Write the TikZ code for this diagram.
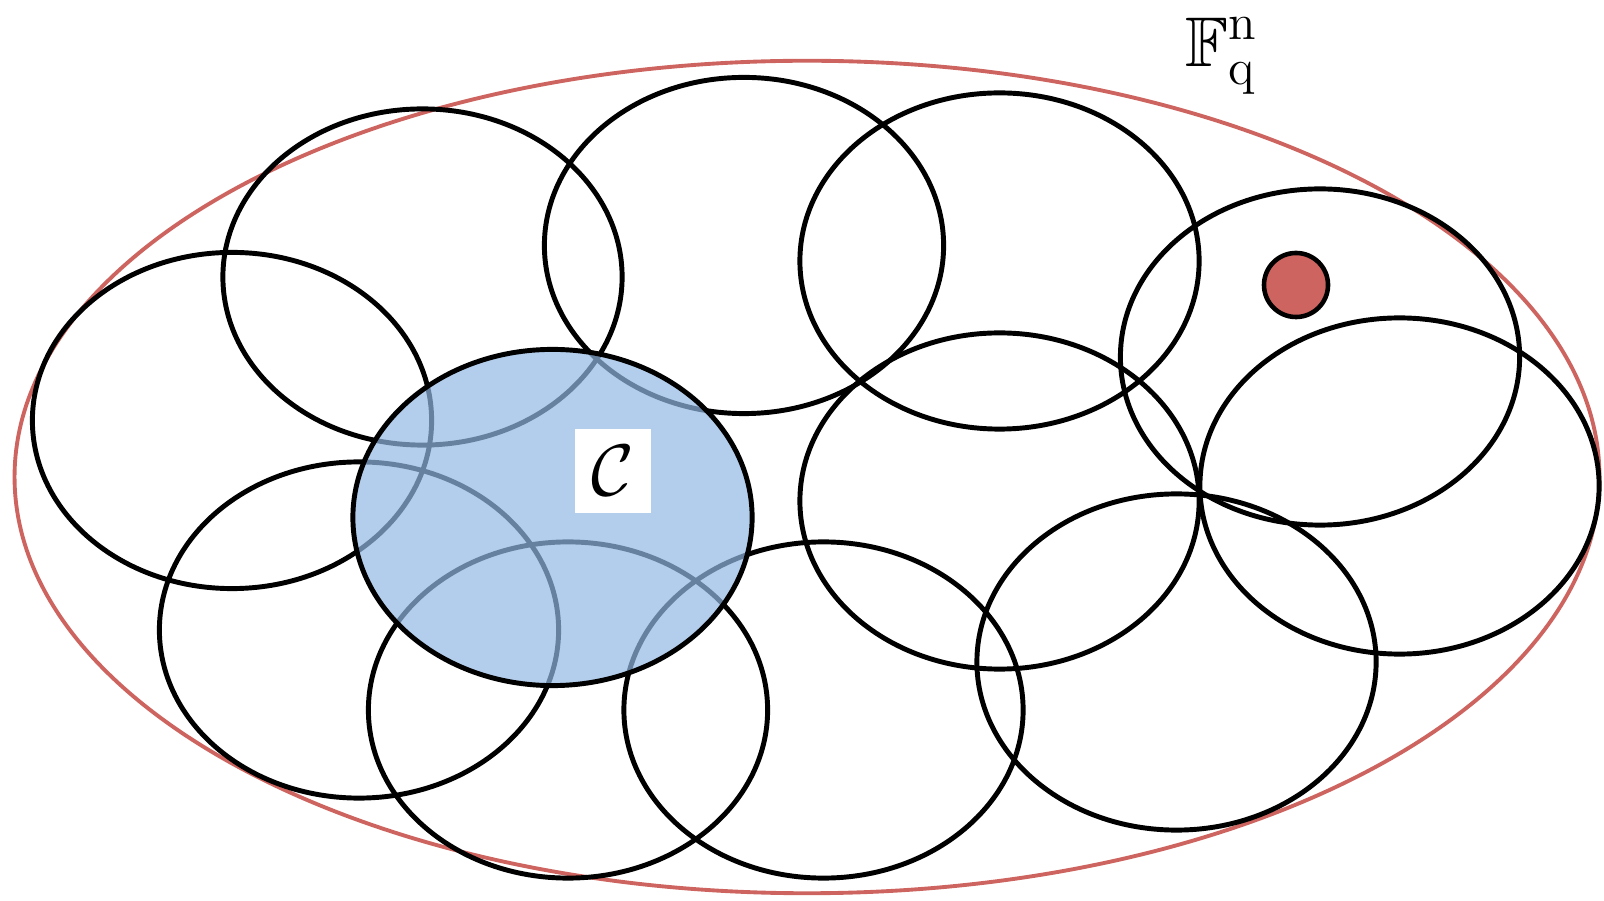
\documentclass[tikz,border=0pt]{standalone}
\usepackage{amsmath,amssymb}
\usepackage{xcolor}
\usepackage{tikz}
\usetikzlibrary{positioning}

\definecolor{ballred}{RGB}{205,100,95}
\definecolor{ballblue}{RGB}{146,185,228}

\begin{document}
\begin{tikzpicture}[
  x=0.01cm, y=-0.01cm,
  ball/.style={draw=black,line width=1.4pt},
  space/.style={draw=ballred,line width=1.1pt},
  code/.style={ball,fill=ballblue,fill opacity=0.7},
  lbl/.style={font=\fontsize{20}{24}\selectfont,inner sep=1pt},
  pt/.style={circle,draw=black,line width=1.3pt,fill=ballred,minimum size=6.4mm,inner sep=0pt}
]
\useasboundingbox (0,0) rectangle (1604,901);

%% ---- the whole space ----------------------------------------------------
\draw[space] (807,477) ellipse [x radius=7.92cm, y radius=4.16cm];
\node[lbl] (Fqn) at (1222,56) {$\mathbb{F}_{\mathrm{q}}^{\mathrm{n}}$};

%% ---- balls covering it --------------------------------------------------
\foreach \cx/\cy in {422.5/277, 744/245.5, 999.5/261, 1320/357, 232/420.5,
                     999.5/501, 1399.5/486, 359/630, 568/710, 823.5/710,
                     1176.5/662}
  \draw[ball] (\cx,\cy) ellipse [x radius=1.995cm, y radius=1.68cm];

%% ---- the highlighted ball -----------------------------------------------
\draw[code] (552.5,517.5) ellipse [x radius=1.995cm, y radius=1.68cm];
\node[lbl,fill=white,minimum width=7.5mm,minimum height=8.4mm] (C) at (613,471) {$\mathcal{C}$};

%% ---- a point ------------------------------------------------------------
\node[pt] (x) at (1296,285) {};
\end{tikzpicture}
\end{document}
